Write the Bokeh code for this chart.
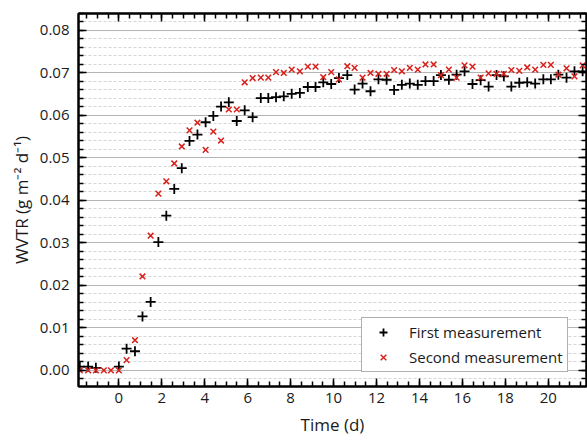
from bokeh.plotting import figure
from bokeh.models import (Range1d, LinearAxis, SingleIntervalTicker, Legend, LegendItem,
                          PrintfTickFormatter, CustomJSTickFormatter)
from bokeh.embed import file_html
from bokeh.resources import INLINE

# ---- data ----
time_first = [-1.82, -1.43, -1.07, 0.00, 0.36, 0.75, 1.10, 1.48, 1.84, 2.21, 2.58, 2.93,
              3.29, 3.66, 4.04, 4.40, 4.76, 5.12, 5.49, 5.86, 6.23, 6.61, 6.96, 7.32,
              7.68, 8.05, 8.43, 8.80, 9.16, 9.52, 9.89, 10.25, 10.64, 10.98, 11.35, 11.72,
              12.09, 12.47, 12.82, 13.18, 13.55, 13.92, 14.28, 14.66, 15.00, 15.37, 15.73,
              16.10, 16.47, 16.85, 17.22, 17.59, 17.93, 18.28, 18.65, 19.02, 19.39, 19.77,
              20.12, 20.47, 20.85, 21.22, 21.60]
wvtr_first = [0.0009, 0.0009, 0.0006, 0.0009, 0.0051, 0.0045, 0.0127, 0.0161, 0.0302, 0.0364,
              0.0427, 0.0476, 0.0540, 0.0555, 0.0584, 0.0599, 0.0621, 0.0631, 0.0587, 0.0612,
              0.0596, 0.0641, 0.0641, 0.0643, 0.0645, 0.0651, 0.0653, 0.0667, 0.0667, 0.0678,
              0.0674, 0.0688, 0.0695, 0.0661, 0.0675, 0.0657, 0.0685, 0.0684, 0.0660, 0.0672,
              0.0675, 0.0672, 0.0681, 0.0681, 0.0695, 0.0684, 0.0696, 0.0704, 0.0674, 0.0683,
              0.0668, 0.0695, 0.0692, 0.0668, 0.0677, 0.0678, 0.0675, 0.0685, 0.0685, 0.0696,
              0.0689, 0.0704, 0.0704]

time_second = [-1.82, -1.43, -1.07, -0.70, -0.37, 0.00, 0.36, 0.75, 1.10, 1.48, 1.84, 2.21,
               2.58, 2.93, 3.29, 3.66, 4.04, 4.40, 4.76, 5.12, 5.49, 5.86, 6.23, 6.61, 6.96,
               7.32, 7.68, 8.05, 8.43, 8.80, 9.16, 9.52, 9.89, 10.25, 10.64, 10.98, 11.35,
               11.72, 12.09, 12.47, 12.82, 13.18, 13.55, 13.92, 14.28, 14.66, 15.00, 15.37,
               15.73, 16.10, 16.47, 16.85, 17.22, 17.59, 17.93, 18.28, 18.65, 19.02, 19.39,
               19.77, 20.12, 20.47, 20.85, 21.22, 21.60]
wvtr_second = [0.0, 0.0, 0.0, 0.0, 0.0, 0.0, 0.0024, 0.0071, 0.0221, 0.0317, 0.0416, 0.0445,
               0.0487, 0.0527, 0.0565, 0.0583, 0.0519, 0.0562, 0.0541, 0.0614, 0.0614, 0.0678,
               0.0688, 0.0689, 0.0689, 0.0702, 0.0700, 0.0708, 0.0704, 0.0715, 0.0715, 0.0690,
               0.0702, 0.0685, 0.0716, 0.0712, 0.0689, 0.0700, 0.0698, 0.0698, 0.0707, 0.0704,
               0.0712, 0.0708, 0.0720, 0.0720, 0.0695, 0.0708, 0.0689, 0.0718, 0.0715, 0.0689,
               0.0699, 0.0698, 0.0698, 0.0707, 0.0705, 0.0713, 0.0708, 0.0719, 0.0719, 0.0696,
               0.0711, 0.0692, 0.0718]

series_names = ["First measurement", "Second measurement"]
x_label = "Time (d)"
y_label = "WVTR (g m\u207b\u00b2 d\u207b\u00b9)"

FONT = "Open Sans"
TXT = "#1a1a1a"

p = figure(frame_width=508, frame_height=373, output_backend="svg", toolbar_location=None,
           x_range=Range1d(-1.88, 21.78), y_range=Range1d(-0.0038, 0.084),
           min_border_left=78, min_border_right=1, min_border_top=13, min_border_bottom=57)
p.background_fill_color = "white"
p.border_fill_color = "white"
p.outline_line_color = "black"
p.outline_line_width = 2

# grids
p.xgrid.grid_line_color = None
p.ygrid.grid_line_color = "#b4b4b4"
p.ygrid.grid_line_width = 1
p.ygrid.minor_grid_line_color = "#d6d6d6"
p.ygrid.minor_grid_line_dash = "3 2"
p.ygrid.minor_grid_line_width = 1

xt = SingleIntervalTicker(interval=2, num_minor_ticks=4)
yt = SingleIntervalTicker(interval=0.01, num_minor_ticks=5)
p.xaxis.ticker = xt
p.yaxis.ticker = yt
p.ygrid.ticker = yt
p.yaxis.formatter = PrintfTickFormatter(format="%.2f")


def style_axis(ax):
    ax.axis_line_width = 2
    ax.axis_line_color = "black"
    ax.major_tick_in = 8
    ax.major_tick_out = 0
    ax.minor_tick_in = 5
    ax.minor_tick_out = 0
    ax.major_tick_line_width = 1.5
    ax.minor_tick_line_width = 1.5
    ax.major_tick_line_color = "black"
    ax.minor_tick_line_color = "black"
    ax.major_label_text_font = FONT
    ax.major_label_text_font_size = "15px"
    ax.major_label_text_color = TXT
    ax.axis_label_text_font = FONT
    ax.axis_label_text_font_size = "17px"
    ax.axis_label_text_font_style = "normal"
    ax.axis_label_text_color = TXT


for ax in (p.xaxis[0], p.yaxis[0]):
    style_axis(ax)
p.xaxis.axis_label = x_label
p.yaxis.axis_label = y_label
p.xaxis.major_label_standoff = 6
p.xaxis.axis_label_standoff = 7
p.yaxis.major_label_standoff = 9
p.yaxis.axis_label_standoff = 4

blank = CustomJSTickFormatter(code="return ''")
top = LinearAxis(ticker=xt, formatter=blank)
right = LinearAxis(ticker=yt, formatter=blank)
for ax in (top, right):
    style_axis(ax)
    ax.major_label_text_font_size = "0px"
    ax.major_label_standoff = 0
p.add_layout(top, "above")
p.add_layout(right, "right")

r1 = p.scatter(time_first, wvtr_first, marker="cross", size=10, line_width=1.8,
               line_color="black")
r2 = p.scatter(time_second, wvtr_second, marker="x", size=8, line_width=1.5,
               line_color="#d9211c")

legend = Legend(items=[LegendItem(label=series_names[0], renderers=[r1]),
                       LegendItem(label=series_names[1], renderers=[r2])],
                location=(283, 14))
legend.label_text_font = FONT
legend.label_text_font_size = "15px"
legend.label_text_color = TXT
legend.border_line_color = "#606060"
legend.border_line_width = 1
legend.background_fill_color = "white"
legend.background_fill_alpha = 1
legend.padding = 4
legend.spacing = 5
legend.glyph_width = 34
legend.glyph_height = 20
legend.label_height = 20
legend.label_standoff = 9
legend.margin = 0
p.add_layout(legend)

open("out.html", "w").write(file_html(p, INLINE))
